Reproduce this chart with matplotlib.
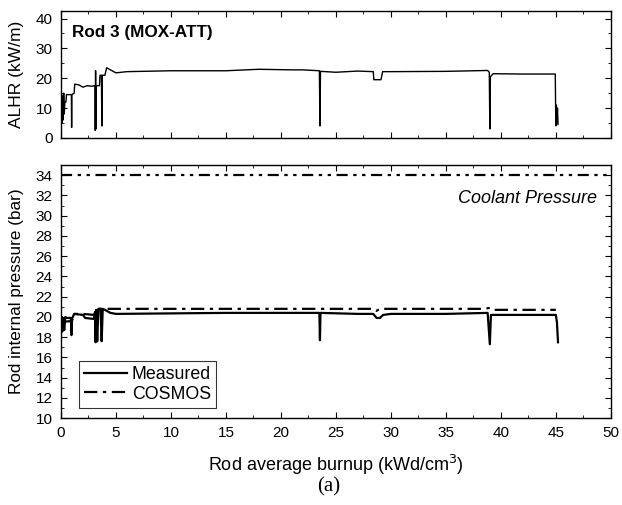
import matplotlib
matplotlib.use("Agg")
import matplotlib.pyplot as plt
from matplotlib.ticker import MultipleLocator
from matplotlib.lines import Line2D

plt.rcParams['font.family'] = ['Liberation Sans', 'DejaVu Sans']

# ALHR history (burnup kWd/cm3, kW/m)
alhr_x = [0.0, 0.05, 0.1, 0.15, 0.2, 0.25, 0.3, 0.35, 0.45, 0.5, 0.95, 0.97, 0.99,
          1.2, 1.25, 1.6, 2.0, 2.4, 2.8, 3.1, 3.12, 3.15, 3.18, 3.22, 3.5, 3.55,
          3.68, 3.72, 3.76, 4.0, 4.15, 4.4, 5.0, 6.0, 10, 15, 18, 21, 22, 23.5,
          23.55, 23.6, 25, 27, 28.4, 28.45, 29.1, 29.25, 30, 35, 38.8, 38.95,
          39.0, 39.05, 39.3, 42, 44.95, 45.0, 45.05, 45.1, 45.15, 45.2]
alhr_y = [7, 15, 5, 14, 6, 15, 8, 12, 12, 14.5, 14.5, 3.5, 14.5,
          15, 18, 17.8, 17.0, 17.5, 17.3, 17.5, 2.5, 22.5, 3, 17.5, 17.5, 21,
          21, 4, 21, 21, 23.5, 23, 21.8, 22.2, 22.5, 22.5, 23.0, 22.8, 22.8, 22.5,
          4, 22.3, 22.0, 22.4, 22.2, 19.5, 19.5, 22.2, 22.2, 22.3, 22.6, 22.0,
          3, 20.5, 21.5, 21.4, 21.4, 4, 11, 5, 10, 4.5]

# Rod internal pressure, measured (bar)
meas_x = [0.0, 0.05, 0.1, 0.15, 0.2, 0.3, 0.4, 0.5, 0.9, 0.95, 1.0, 1.2, 2.0, 2.2,
          3.0, 3.1, 3.15, 3.2, 3.3, 3.4, 3.6, 3.7, 3.8, 4.0, 4.5, 5.0, 10, 15, 20,
          23.5, 23.55, 23.6, 27, 28.4, 28.7, 29.0, 29.3, 30, 35, 38.8, 39.0, 39.1,
          42, 45.0, 45.1, 45.2]
meas_y = [19.5, 18.5, 20.0, 18.6, 19.8, 18.7, 20.0, 19.9, 19.9, 18.2, 19.8, 20.3, 20.2, 19.9,
          19.8, 20.5, 17.5, 20.7, 17.6, 20.8, 20.8, 17.6, 20.8, 20.7, 20.4, 20.3, 20.35, 20.4, 20.4,
          20.4, 17.7, 20.4, 20.3, 20.3, 19.9, 19.9, 20.2, 20.3, 20.3, 20.4, 17.3, 20.2,
          20.2, 20.2, 19.5, 17.5]

# COSMOS prediction
cosmos_x = [0.0, 1.0, 1.2, 2.0, 3.0, 3.3, 10, 20, 28.4, 28.7, 29.0, 38.5, 39.0, 39.3, 45.0]
cosmos_y = [19.5, 19.6, 20.3, 20.3, 20.2, 20.8, 20.8, 20.8, 20.8, 20.6, 20.8, 20.8, 20.9, 20.7, 20.7]

# Coolant pressure
coolant_x = [0, 50]
coolant_y = [34, 34]


def style_axes(ax):
    ax.tick_params(which='both', direction='in', top=True, right=True, labelsize=11, pad=6)
    ax.tick_params(which='major', length=4, width=0.8)
    ax.tick_params(which='minor', length=2, width=0.6)
    for sp in ax.spines.values():
        sp.set_linewidth(1.0)


fig = plt.figure(figsize=(6.22, 5.05), dpi=100)
ax1 = fig.add_axes([0.098, 0.727, 0.884, 0.251])
ax2 = fig.add_axes([0.098, 0.172, 0.884, 0.501])

# top panel
ax1.plot(alhr_x, alhr_y, color='black', lw=1.0)
ax1.set_xlim(0, 50)
ax1.set_ylim(0, 42.5)
ax1.xaxis.set_major_locator(MultipleLocator(5))
ax1.xaxis.set_minor_locator(MultipleLocator(2.5))
ax1.yaxis.set_major_locator(MultipleLocator(10))
ax1.yaxis.set_minor_locator(MultipleLocator(5))
ax1.set_xticklabels([])
ax1.set_ylabel('ALHR (kW/m)', fontsize=12.5)
ax1.yaxis.set_label_coords(-0.068, 0.5)
ax1.text(0.02, 0.835, 'Rod 3 (MOX-ATT)', transform=ax1.transAxes,
         fontsize=12.3, fontweight='bold', va='center')
style_axes(ax1)

# bottom panel
ax2.plot(meas_x, meas_y, color='black', lw=1.6)
ax2.plot(cosmos_x, cosmos_y, color='black', lw=1.6, dashes=(6, 2.5, 1.5, 2.5))
ax2.plot(coolant_x, coolant_y, color='black', lw=1.6, dashes=(5, 2.5, 1.5, 2.5, 1.5, 2.5))
ax2.set_xlim(0, 50)
ax2.set_ylim(10, 35)
ax2.xaxis.set_major_locator(MultipleLocator(5))
ax2.xaxis.set_minor_locator(MultipleLocator(2.5))
ax2.yaxis.set_major_locator(MultipleLocator(2))
ax2.yaxis.set_minor_locator(MultipleLocator(1))
ax2.set_xlabel('Rod average burnup (kWd/cm$^3$)', fontsize=13, labelpad=9)
ax2.set_ylabel('Rod internal pressure (bar)', fontsize=12.3)
ax2.yaxis.set_label_coords(-0.068, 0.5)
ax2.text(0.975, 0.87, 'Coolant Pressure', transform=ax2.transAxes,
         fontsize=13, style='italic', ha='right', va='center')
style_axes(ax2)

handles = [Line2D([], [], color='black', lw=1.6),
           Line2D([], [], color='black', lw=1.6, dashes=(6, 2.5, 1.5, 2.5))]
leg = ax2.legend(handles, ['Measured', 'COSMOS'], loc='lower left',
                 bbox_to_anchor=(0.032, 0.04), fontsize=12.8, frameon=True,
                 fancybox=False, edgecolor='black', handlelength=2.4,
                 handletextpad=0.3, borderpad=0.3, labelspacing=0.15, borderaxespad=0)
leg.get_frame().set_linewidth(0.8)

fig.text(0.528, 0.035, '(a)', fontsize=15, family=['Liberation Serif', 'DejaVu Serif'],
         ha='center', va='center')

fig.savefig('out.png', dpi=100)
